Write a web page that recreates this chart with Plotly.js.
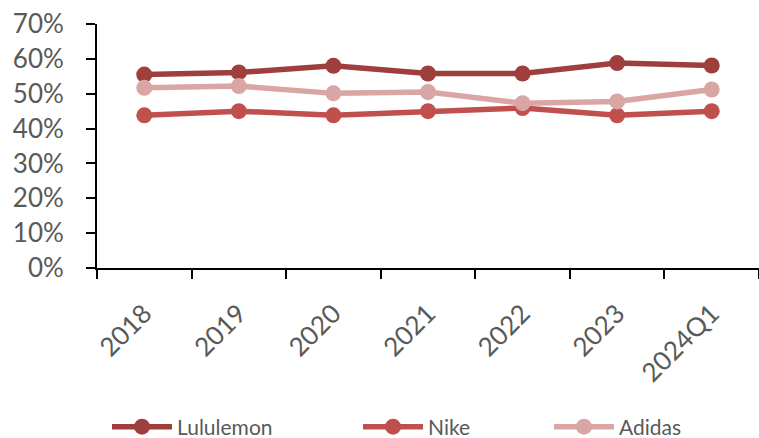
<!DOCTYPE html>
<html>
<head>
<meta charset="utf-8">
<script src="https://cdn.plot.ly/plotly-3.0.1.min.js"></script>
<style>html,body{margin:0;padding:0;background:#fff;}#chart{width:759px;height:438px;}</style>
</head>
<body>
<div id="chart"></div>
<script>
const categories = ["2018", "2019", "2020", "2021", "2022", "2023", "2024Q1"];
const lululemon = [0.555, 0.561, 0.580, 0.558, 0.558, 0.588, 0.581];
const nike = [0.438, 0.450, 0.438, 0.450, 0.459, 0.438, 0.450];
const adidas = [0.517, 0.522, 0.501, 0.505, 0.473, 0.478, 0.512];
const yTicks = [0, 0.1, 0.2, 0.3, 0.4, 0.5, 0.6, 0.7];
const yTickLabels = ["0%", "10%", "20%", "30%", "40%", "50%", "60%", "70%"];

function series(name, y, color, legendId) {
  return {
    type: "scatter", mode: "lines+markers", name: name,
    x: categories, y: y, legend: legendId,
    line: {color: color, width: 5.5},
    marker: {color: color, size: 16}
  };
}

const data = [
  series("Lululemon", lululemon, "#9E3F3D", "legend"),
  series("Nike", nike, "#C0504D", "legend2"),
  series("Adidas", adidas, "#D9A6A5", "legend3")
];

const fam = "Lato, 'Open Sans', sans-serif";
const grey = "#595959";

function leg(xp) {
  return {
    orientation: "h", xref: "container", yref: "container",
    x: xp, xanchor: "left", y: 0.025, yanchor: "middle",
    itemwidth: 60, bgcolor: "rgba(0,0,0,0)",
    font: {family: fam, color: grey, size: 21}
  };
}

const layout = {
  width: 759, height: 438,
  margin: {l: 97, r: 0, t: 24, b: 170, autoexpand: false},
  paper_bgcolor: "#fff", plot_bgcolor: "#fff",
  font: {family: fam, color: grey},
  showlegend: true,
  legend: leg(0.141),
  legend2: leg(0.4717),
  legend3: leg(0.7233),
  xaxis: {
    type: "category", range: [-0.5, 6.5],
    showline: true, linecolor: "#000", linewidth: 2,
    ticks: "outside", tickson: "boundaries", ticklen: 9, tickwidth: 2, tickcolor: "#000",
    tickangle: -45, showgrid: false, zeroline: false, ticklabelstandoff: 18,
    tickfont: {family: fam, color: grey, size: 26}
  },
  yaxis: {
    range: [0, 0.7], tickvals: yTicks, ticktext: yTickLabels,
    showline: true, linecolor: "#000", linewidth: 2,
    ticks: "outside", ticklen: 9, tickwidth: 2, tickcolor: "#000",
    showgrid: false, zeroline: false, ticklabelstandoff: 17,
    tickfont: {family: fam, color: grey, size: 26}
  }
};

Plotly.newPlot("chart", data, layout, {displayModeBar: false, staticPlot: true});
</script>
</body>
</html>
